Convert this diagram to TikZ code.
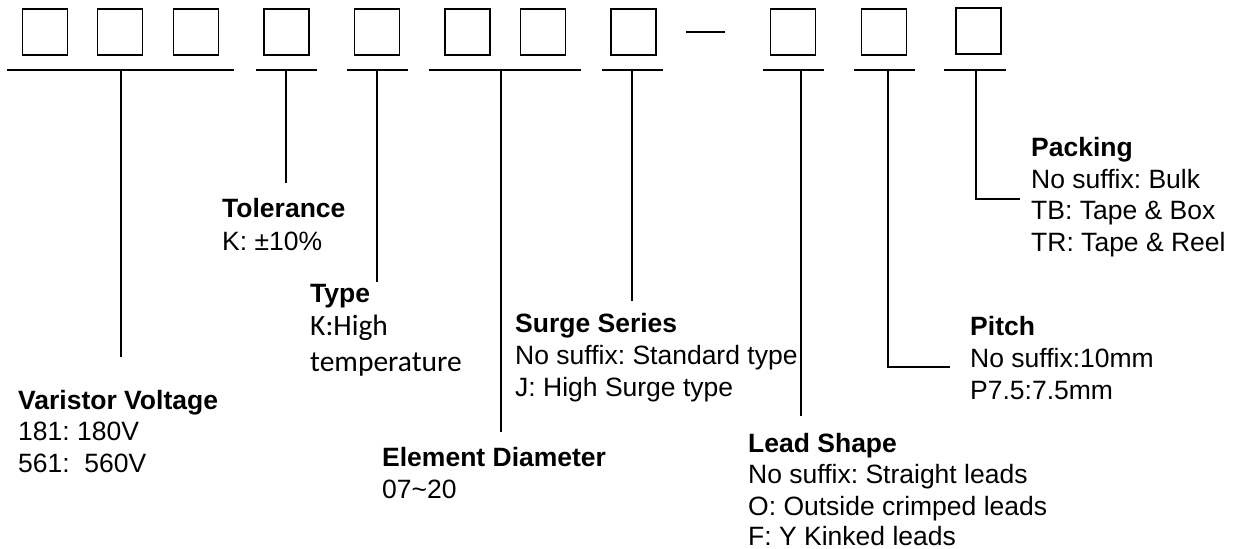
\documentclass[tikz,border=0pt]{standalone}
\usepackage{fontspec}
\setmainfont{Liberation Sans}
\newfontfamily\calibfont{Carlito}
\frenchspacing
\begin{document}
\begin{tikzpicture}[x=1pt,y=-1pt,
  cell/.style={draw, line width=1.8pt, minimum width=45pt, minimum height=46pt, inner sep=0pt},
  rule/.style={line width=1.8pt},
  lead/.style={line width=1.7pt},
  txt/.style={anchor=base west, inner sep=0pt, font=\fontsize{26.5}{32}\selectfont},
  head/.style={anchor=base west, inner sep=0pt, font=\fontsize{26.5}{32}\selectfont\bfseries},
  ctxt/.style={anchor=base west, inner sep=0pt, font=\fontsize{29.5}{36}\selectfont\calibfont}]
\useasboundingbox (0,0) rectangle (1235,549);
% code boxes
\node[cell] (b1) at (45,32) {};
\node[cell] (b2) at (120,32) {};
\node[cell] (b3) at (196,32) {};
\node[cell] (b4) at (286.5,32) {};
\node[cell] (b5) at (377,32) {};
\node[cell] (b6) at (467.5,32) {};
\node[cell] (b7) at (543,32) {};
\node[cell] (b8) at (633.5,32) {};
\node[cell] (b9) at (793,32) {};
\node[cell] (b10) at (884,32) {};
\node[cell] (b11) at (978.5,31) {};
% dash
\coordinate (d1) at (686,32);
\coordinate (d2) at (725,32);
\draw[line width=1.4pt] (d1) -- (d2);
% underlines
\coordinate (u1a) at (7,70);   \coordinate (u1b) at (234,70);
\coordinate (u2a) at (256,70); \coordinate (u2b) at (317,70);
\coordinate (u3a) at (347,70); \coordinate (u3b) at (408,70);
\coordinate (u4a) at (429,70); \coordinate (u4b) at (581,70);
\coordinate (u5a) at (602,70); \coordinate (u5b) at (663,70);
\coordinate (u6a) at (763,70); \coordinate (u6b) at (824,70);
\coordinate (u7a) at (854,70); \coordinate (u7b) at (915,70);
\coordinate (u8a) at (944,70); \coordinate (u8b) at (1006,70);
\foreach \i in {1,...,8} {\draw[rule] (u\i a) -- (u\i b);}
% stems
\coordinate (s1t) at (121,70); \coordinate (s1b) at (121,357);
\coordinate (s2t) at (286,70); \coordinate (s2b) at (286,183);
\coordinate (s3t) at (377,70); \coordinate (s3b) at (377,282);
\coordinate (s4t) at (501,70); \coordinate (s4b) at (501,432);
\coordinate (s5t) at (632,70); \coordinate (s5b) at (632,301);
\coordinate (s6t) at (801,70); \coordinate (s6b) at (801,416);
\coordinate (s7t) at (888,70); \coordinate (s7b) at (888,367); \coordinate (s7e) at (950,367);
\coordinate (s8t) at (976,70); \coordinate (s8b) at (976,199); \coordinate (s8e) at (1020,199);
\foreach \i in {1,...,6} {\draw[lead] (s\i t) -- (s\i b);}
\draw[lead] (s7t) -- (s7b) -- (s7e);
\draw[lead] (s8t) -- (s8b) -- (s8e);
% labels
\node[head] (vv0) at (18,409) {Varistor Voltage};
\node[txt]  (vv1) at (18,440.5) {181: 180V};
\node[txt]  (vv2) at (18,472) {561:~~560V};
\node[head] (to0) at (222,217) {Tolerance};
\node[txt]  (to1) at (222,250) {K: ±10\%};
\node[head] (ty0) at (310,302) {Type};
\node[ctxt] (ty1) at (310,335) {K:High};
\node[ctxt] (ty2) at (310,371) {temperature};
\node[head] (ed0) at (382,466) {Element Diameter};
\node[txt]  (ed1) at (382,498) {07\char`\~20};
\node[head] (ss0) at (515,332) {Surge Series};
\node[txt]  (ss1) at (515,364) {No suffix: Standard type};
\node[txt]  (ss2) at (515,396) {J: High Surge type};
\node[head] (ls0) at (748,452) {Lead Shape};
\node[txt]  (ls1) at (748,483.5) {No suffix: Straight leads};
\node[txt]  (ls2) at (748,515) {O: Outside crimped leads};
\node[txt]  (ls3) at (748,545) {F: Y Kinked leads};
\node[head] (pi0) at (970,335) {Pitch};
\node[txt]  (pi1) at (970,367) {No suffix:10mm};
\node[txt]  (pi2) at (970,399) {P7.5:7.5mm};
\node[head] (pk0) at (1031,156) {Packing};
\node[txt]  (pk1) at (1031,188) {No suffix: Bulk};
\node[txt]  (pk2) at (1031,219.5) {TB: Tape \& Box};
\node[txt]  (pk3) at (1031,251) {TR: Tape \& Reel};
\end{tikzpicture}
\end{document}
